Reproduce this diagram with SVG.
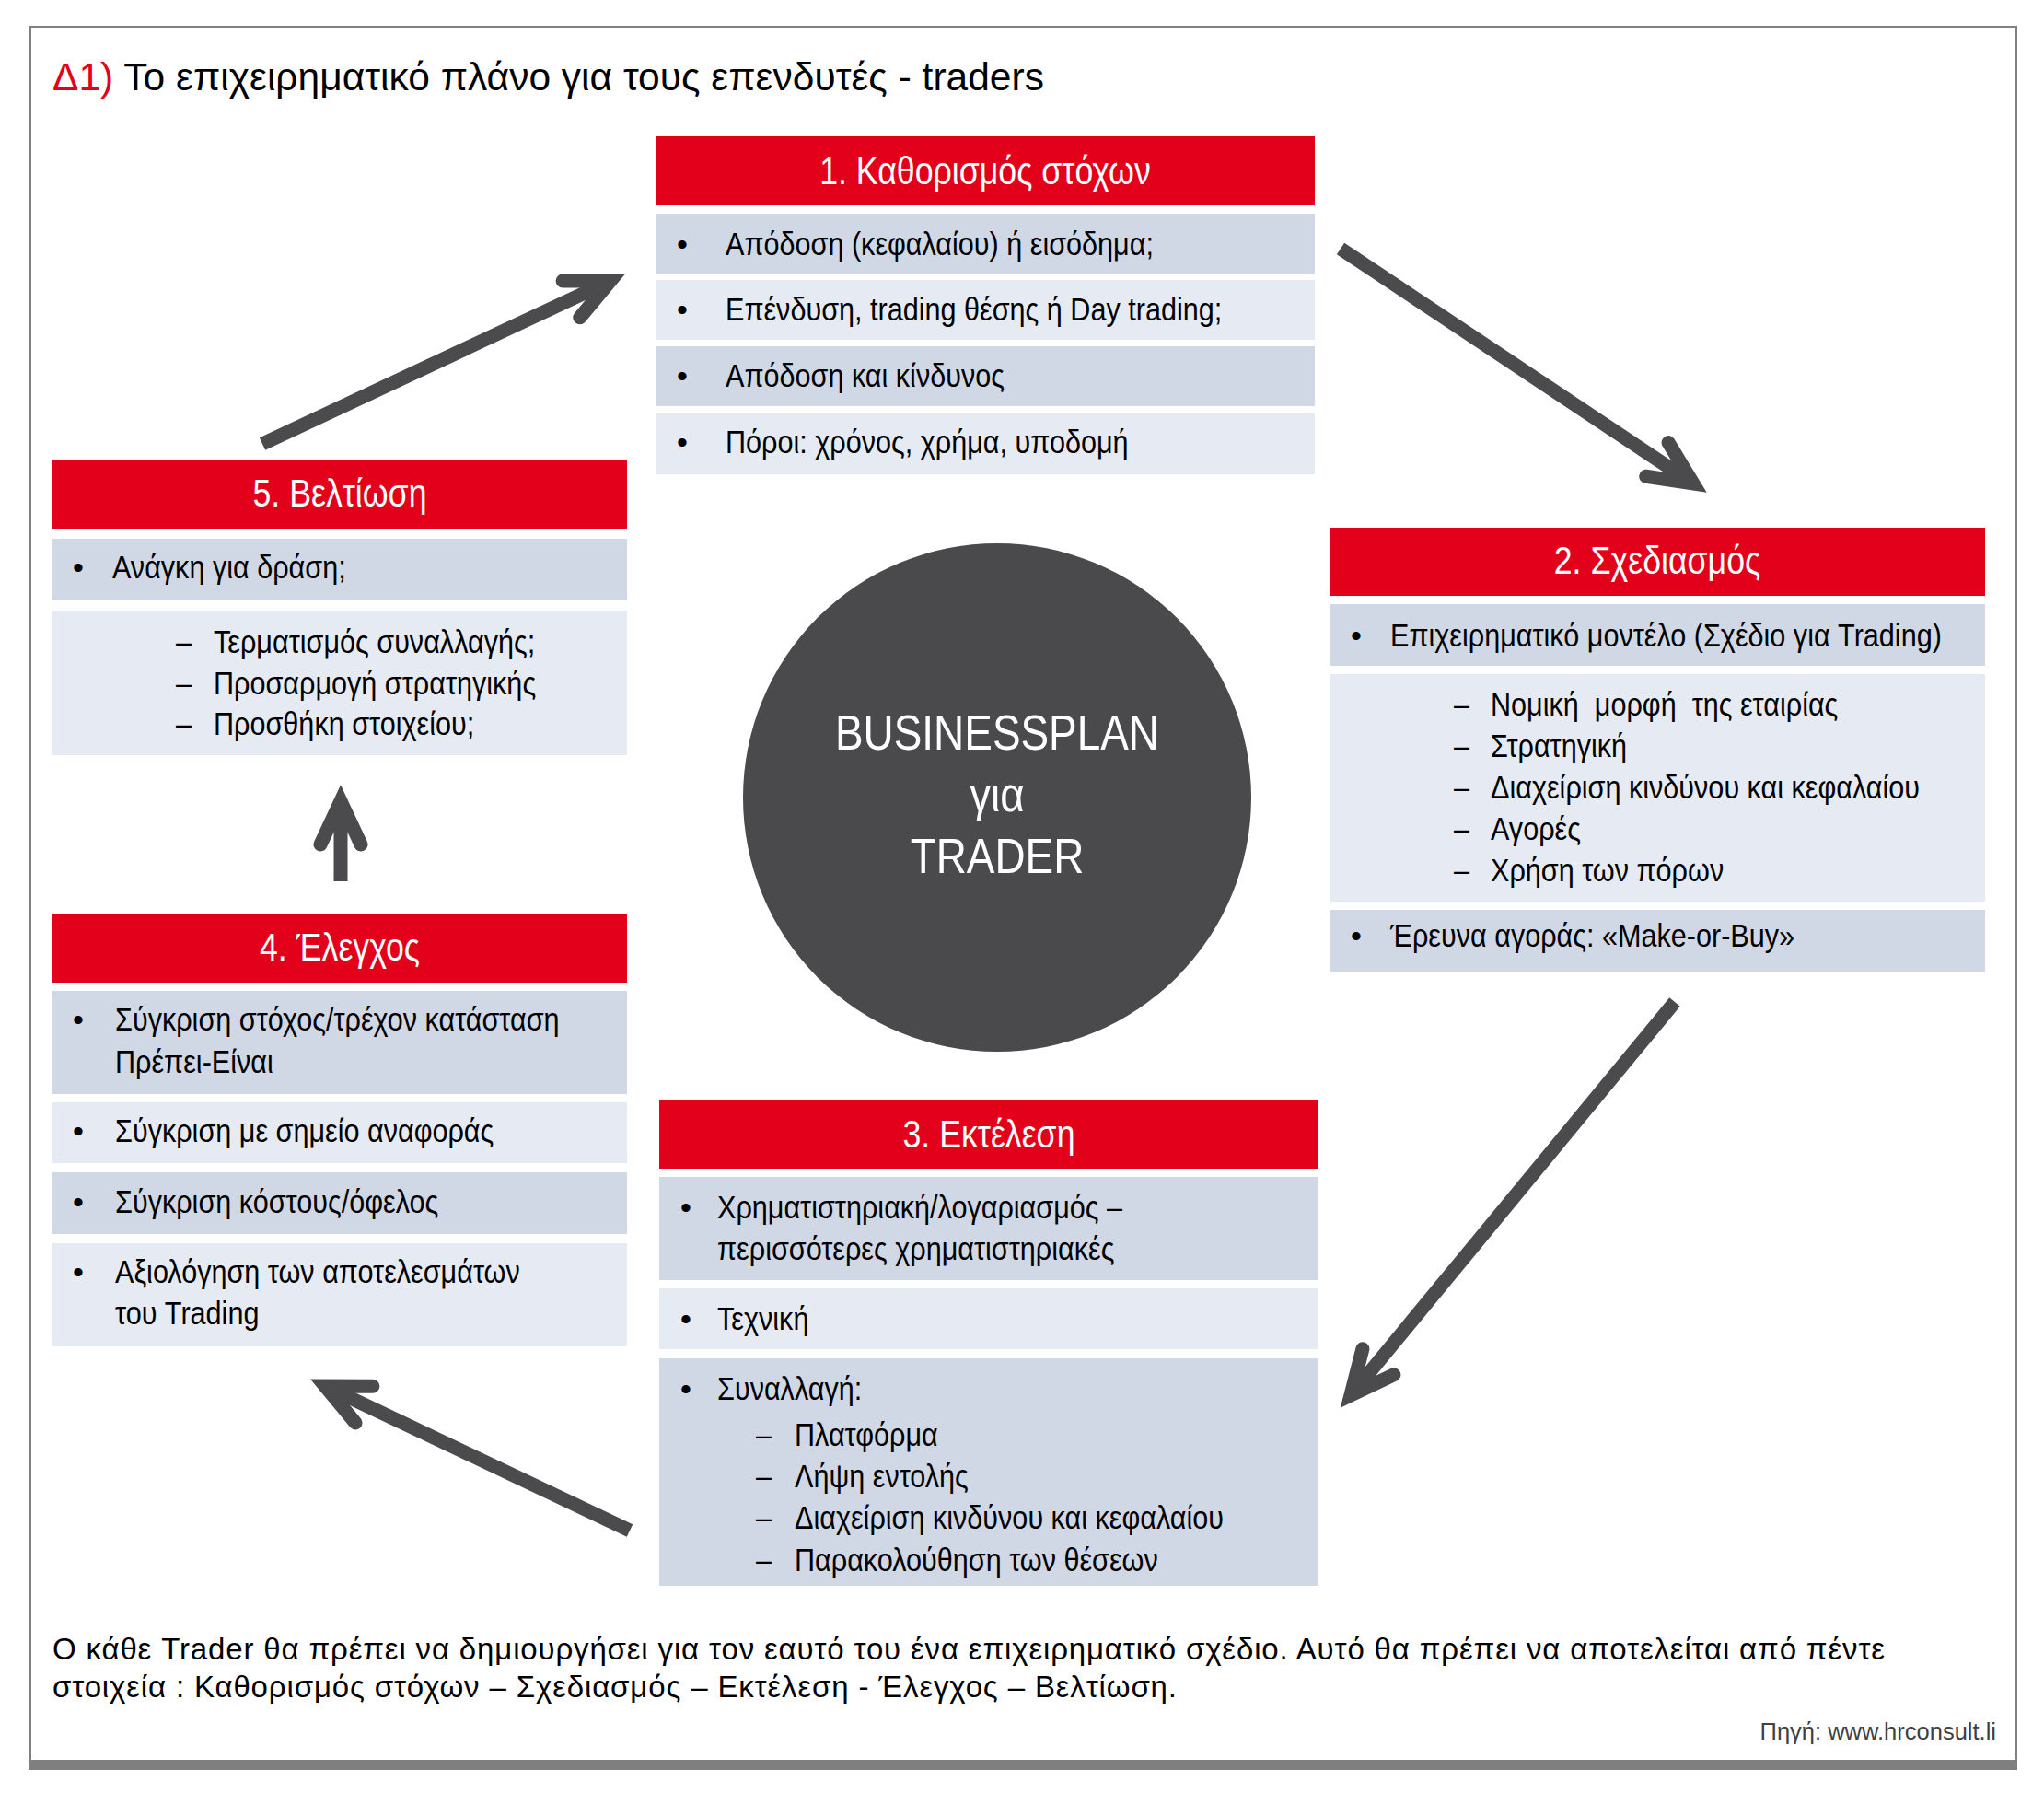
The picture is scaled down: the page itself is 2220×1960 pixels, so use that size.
<svg xmlns="http://www.w3.org/2000/svg" width="2220" height="1960" viewBox="0 0 2220 1960">
<defs>
<style>
.hdr{fill:#E2001A}
.dk{fill:#D0D8E6}
.lt{fill:#E6EBF3}
.n{font-family:"Liberation Sans",Arial,sans-serif}
.ht{font-size:42px;fill:#fff;text-anchor:middle}
.bt{font-size:36px;fill:#000;white-space:pre}
.bul{font-size:34px;fill:#000;text-anchor:middle}
.ctr{font-size:54px;fill:#fff;text-anchor:middle}
.reg{font-family:"Liberation Sans",Arial,sans-serif}
.arr{stroke:#4b4b4d;stroke-width:15;fill:none;stroke-linecap:butt;marker-end:url(#ah)}
</style>
<marker id="ah" markerUnits="userSpaceOnUse" orient="auto" refX="0" refY="0" viewBox="-60 -40 80 80" markerWidth="80" markerHeight="80" overflow="visible">
<polyline points="-47,-22 0,0 -47,22" fill="none" stroke="#4b4b4d" stroke-width="15" stroke-linecap="round" stroke-linejoin="miter"/>
</marker>
</defs>
<rect x="0" y="0" width="2220" height="1960" fill="#fff"/>
<g id="frame">
<path d="M33,1912 V29 H2190 V1912" fill="none" stroke="#808080" stroke-width="2"/>
<rect x="31" y="1911" width="2160" height="11" fill="#7f7f7f"/>
</g>
<g id="title">
<text class="reg" x="57" y="98" font-size="42.5"><tspan fill="#E2001A">Δ1)</tspan><tspan fill="#000"> Το επιχειρηματικό πλάνο για τους επενδυτές - traders</tspan></text>
</g>
<g id="center">
<circle cx="1083" cy="866" r="276" fill="#4a4a4c"/>
<text class="n ctr" x="1083" y="814" transform="matrix(0.85 0 0 1 162.45 0)">BUSINESSPLAN</text>
<text class="n ctr" x="1083" y="881" transform="matrix(0.85 0 0 1 162.45 0)">για</text>
<text class="n ctr" x="1083" y="948" transform="matrix(0.85 0 0 1 162.45 0)">TRADER</text>
</g>
<g id="node1">
<rect class="hdr" x="712" y="148" width="716" height="75"/>
<text class="n ht" x="1070" y="200" transform="matrix(0.85 0 0 1 160.5 0)">1. Καθορισμός στόχων</text>
<rect class="dk" x="712" y="232" width="716" height="65"/>
<rect class="lt" x="712" y="304" width="716" height="65"/>
<rect class="dk" x="712" y="376" width="716" height="65"/>
<rect class="lt" x="712" y="448" width="716" height="67"/>
<text class="n bul" x="741" y="277">•</text>
<text class="n bt" x="788" y="277" transform="matrix(0.85 0 0 1 118.2 0)">Απόδοση (κεφαλαίου) ή εισόδημα;</text>
<text class="n bul" x="741" y="348">•</text>
<text class="n bt" x="788" y="348" transform="matrix(0.85 0 0 1 118.2 0)">Επένδυση, trading θέσης ή Day trading;</text>
<text class="n bul" x="741" y="420">•</text>
<text class="n bt" x="788" y="420" transform="matrix(0.85 0 0 1 118.2 0)">Απόδοση και κίνδυνος</text>
<text class="n bul" x="741" y="492">•</text>
<text class="n bt" x="788" y="492" transform="matrix(0.85 0 0 1 118.2 0)">Πόροι: χρόνος, χρήμα, υποδομή</text>
</g>
<g id="node2">
<rect class="hdr" x="1445" y="573" width="711" height="74"/>
<text class="n ht" x="1800" y="623" transform="matrix(0.85 0 0 1 270 0)">2. Σχεδιασμός</text>
<rect class="dk" x="1445" y="656" width="711" height="67"/>
<rect class="lt" x="1445" y="732" width="711" height="247"/>
<rect class="dk" x="1445" y="988" width="711" height="67"/>
<text class="n bul" x="1473" y="702">•</text>
<text class="n bt" x="1510" y="702" transform="matrix(0.85 0 0 1 226.5 0)">Επιχειρηματικό μοντέλο (Σχέδιο για Trading)</text>
<text class="n bt" x="1579" y="777" transform="matrix(0.85 0 0 1 236.85 0)">–</text>
<text class="n bt" x="1619" y="777" transform="matrix(0.85 0 0 1 242.85 0)">Νομική  μορφή  της εταιρίας</text>
<text class="n bt" x="1579" y="822" transform="matrix(0.85 0 0 1 236.85 0)">–</text>
<text class="n bt" x="1619" y="822" transform="matrix(0.85 0 0 1 242.85 0)">Στρατηγική</text>
<text class="n bt" x="1579" y="867" transform="matrix(0.85 0 0 1 236.85 0)">–</text>
<text class="n bt" x="1619" y="867" transform="matrix(0.85 0 0 1 242.85 0)">Διαχείριση κινδύνου και κεφαλαίου</text>
<text class="n bt" x="1579" y="912" transform="matrix(0.85 0 0 1 236.85 0)">–</text>
<text class="n bt" x="1619" y="912" transform="matrix(0.85 0 0 1 242.85 0)">Αγορές</text>
<text class="n bt" x="1579" y="957" transform="matrix(0.85 0 0 1 236.85 0)">–</text>
<text class="n bt" x="1619" y="957" transform="matrix(0.85 0 0 1 242.85 0)">Χρήση των πόρων</text>
<text class="n bul" x="1473" y="1028">•</text>
<text class="n bt" x="1510" y="1028" transform="matrix(0.85 0 0 1 226.5 0)">Έρευνα αγοράς: «Make-or-Buy»</text>
</g>
<g id="node3">
<rect class="hdr" x="716" y="1194" width="716" height="75"/>
<text class="n ht" x="1074" y="1246" transform="matrix(0.85 0 0 1 161.1 0)">3. Εκτέλεση</text>
<rect class="dk" x="716" y="1278" width="716" height="112"/>
<rect class="lt" x="716" y="1399" width="716" height="66"/>
<rect class="dk" x="716" y="1475" width="716" height="247"/>
<text class="n bul" x="745" y="1323">•</text>
<text class="n bt" x="779" y="1323" transform="matrix(0.85 0 0 1 116.85 0)">Χρηματιστηριακή/λογαριασμός –</text>
<text class="n bt" x="779" y="1368" transform="matrix(0.85 0 0 1 116.85 0)">περισσότερες χρηματιστηριακές</text>
<text class="n bul" x="745" y="1444">•</text>
<text class="n bt" x="779" y="1444" transform="matrix(0.85 0 0 1 116.85 0)">Τεχνική</text>
<text class="n bul" x="745" y="1520">•</text>
<text class="n bt" x="779" y="1520" transform="matrix(0.85 0 0 1 116.85 0)">Συναλλαγή:</text>
<text class="n bt" x="821" y="1570" transform="matrix(0.85 0 0 1 123.15 0)">–</text>
<text class="n bt" x="863" y="1570" transform="matrix(0.85 0 0 1 129.45 0)">Πλατφόρμα</text>
<text class="n bt" x="821" y="1615" transform="matrix(0.85 0 0 1 123.15 0)">–</text>
<text class="n bt" x="863" y="1615" transform="matrix(0.85 0 0 1 129.45 0)">Λήψη εντολής</text>
<text class="n bt" x="821" y="1660" transform="matrix(0.85 0 0 1 123.15 0)">–</text>
<text class="n bt" x="863" y="1660" transform="matrix(0.85 0 0 1 129.45 0)">Διαχείριση κινδύνου και κεφαλαίου</text>
<text class="n bt" x="821" y="1706" transform="matrix(0.85 0 0 1 123.15 0)">–</text>
<text class="n bt" x="863" y="1706" transform="matrix(0.85 0 0 1 129.45 0)">Παρακολούθηση των θέσεων</text>
</g>
<g id="node4">
<rect class="hdr" x="57" y="992" width="624" height="75"/>
<text class="n ht" x="369" y="1043" transform="matrix(0.85 0 0 1 55.35 0)">4. Έλεγχος</text>
<rect class="dk" x="57" y="1076" width="624" height="112"/>
<rect class="lt" x="57" y="1197" width="624" height="66"/>
<rect class="dk" x="57" y="1273" width="624" height="67"/>
<rect class="lt" x="57" y="1350" width="624" height="112"/>
<text class="n bul" x="85" y="1119">•</text>
<text class="n bt" x="125" y="1119" transform="matrix(0.85 0 0 1 18.75 0)">Σύγκριση στόχος/τρέχον κατάσταση</text>
<text class="n bt" x="125" y="1165" transform="matrix(0.85 0 0 1 18.75 0)">Πρέπει-Είναι</text>
<text class="n bul" x="85" y="1240">•</text>
<text class="n bt" x="125" y="1240" transform="matrix(0.85 0 0 1 18.75 0)">Σύγκριση με σημείο αναφοράς</text>
<text class="n bul" x="85" y="1317">•</text>
<text class="n bt" x="125" y="1317" transform="matrix(0.85 0 0 1 18.75 0)">Σύγκριση κόστους/όφελος</text>
<text class="n bul" x="85" y="1393">•</text>
<text class="n bt" x="125" y="1393" transform="matrix(0.85 0 0 1 18.75 0)">Αξιολόγηση των αποτελεσμάτων</text>
<text class="n bt" x="125" y="1438" transform="matrix(0.85 0 0 1 18.75 0)">του Trading</text>
</g>
<g id="node5">
<rect class="hdr" x="57" y="499" width="624" height="75"/>
<text class="n ht" x="369" y="550" transform="matrix(0.85 0 0 1 55.35 0)">5. Βελτίωση</text>
<rect class="dk" x="57" y="585" width="624" height="67"/>
<rect class="lt" x="57" y="663" width="624" height="157"/>
<text class="n bul" x="85" y="628">•</text>
<text class="n bt" x="122" y="628" transform="matrix(0.85 0 0 1 18.3 0)">Ανάγκη για δράση;</text>
<text class="n bt" x="191" y="709" transform="matrix(0.85 0 0 1 28.65 0)">–</text>
<text class="n bt" x="232" y="709" transform="matrix(0.85 0 0 1 34.8 0)">Τερματισμός συναλλαγής;</text>
<text class="n bt" x="191" y="754" transform="matrix(0.85 0 0 1 28.65 0)">–</text>
<text class="n bt" x="232" y="754" transform="matrix(0.85 0 0 1 34.8 0)">Προσαρμογή στρατηγικής</text>
<text class="n bt" x="191" y="798" transform="matrix(0.85 0 0 1 28.65 0)">–</text>
<text class="n bt" x="232" y="798" transform="matrix(0.85 0 0 1 34.8 0)">Προσθήκη στοιχείου;</text>
</g>
<g id="connectors">
<path class="arr" d="M285,482 L663,305"/>
<path class="arr" d="M1456,270 L1839,525"/>
<path class="arr" d="M1819,1088 L1467,1515"/>
<path class="arr" d="M684,1662 L353,1505"/>
<path class="arr" d="M370,957 L370,870"/>
</g>
<g id="footer">
<text class="reg" x="57" y="1802" font-size="33" fill="#000" textLength="1990" lengthAdjust="spacing">Ο κάθε Trader θα πρέπει να δημιουργήσει για τον εαυτό του ένα επιχειρηματικό σχέδιο. Αυτό θα πρέπει να αποτελείται από πέντε</text>
<text class="reg" x="57" y="1843" font-size="33" fill="#000" textLength="1221" lengthAdjust="spacing">στοιχεία : Καθορισμός στόχων – Σχεδιασμός – Εκτέλεση - Έλεγχος – Βελτίωση.</text>
<text class="reg" x="2168" y="1889" font-size="25.5" fill="#404040" text-anchor="end">Πηγή: www.hrconsult.li</text>
</g>
</svg>
